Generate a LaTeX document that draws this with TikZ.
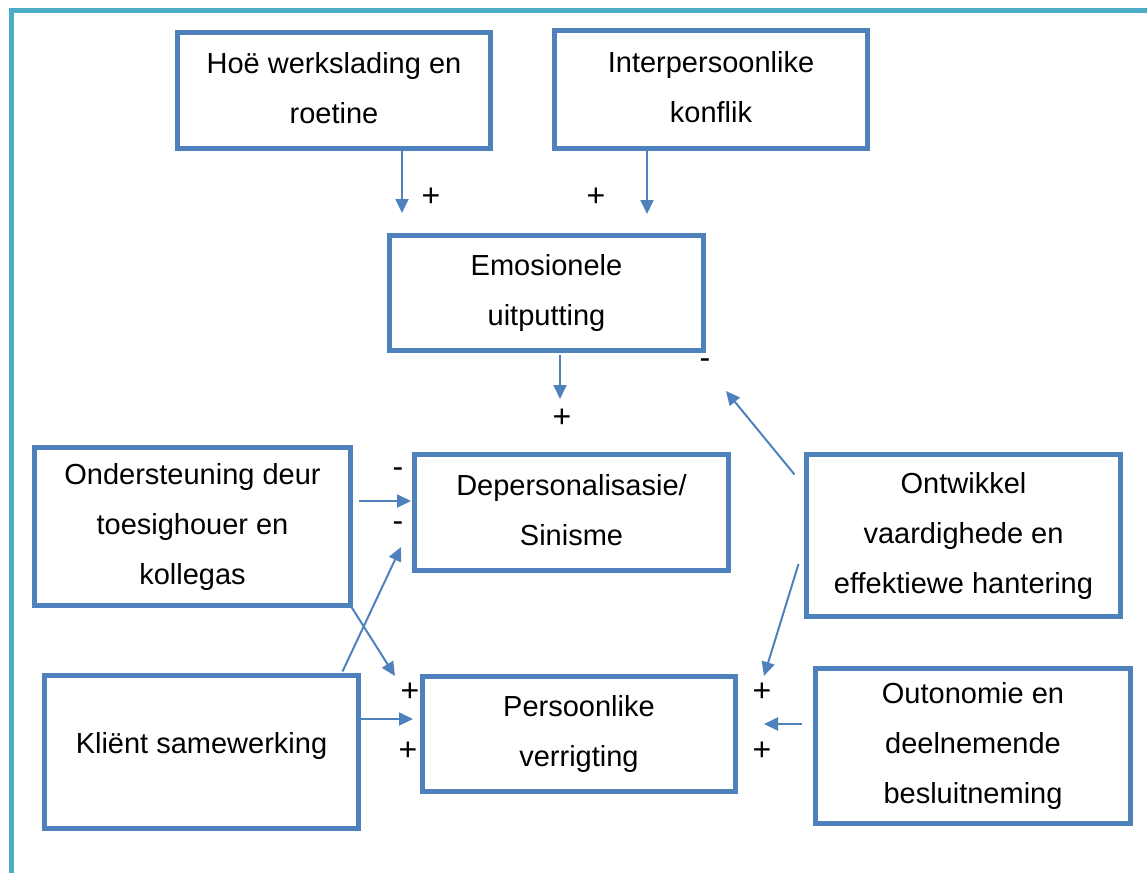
\documentclass[tikz,border=0pt]{standalone}
\usepackage{fontspec}
\setmainfont{Liberation Sans}
\usetikzlibrary{arrows.meta}
\definecolor{boxblue}{HTML}{4F81BD}
\definecolor{frameteal}{HTML}{4BACC6}
\tikzset{
  cbox/.style={draw=boxblue, line width=5pt, rectangle, inner sep=0pt, outer sep=0pt,
    align=center, font={\fontsize{29}{50}\selectfont}, line join=miter, text depth=6pt},
  arr/.style={draw=boxblue, line width=2pt, -{Triangle[length=14pt,width=13pt]}},
  sign/.style={inner sep=0pt, outer sep=0pt, font={\fontsize{32}{36}\selectfont}}
}
\begin{document}
\begin{tikzpicture}[x=1pt,y=-1pt]
\useasboundingbox (0,0) rectangle (1147,873);
\draw[frameteal, line width=5pt, line join=miter] (11,873) -- (11,10) -- (1147,10);

\node[cbox, minimum width=313pt, minimum height=116pt] (b1) at (334,90.5) {Hoë werkslading en\\roetine};
\node[cbox, minimum width=313pt, minimum height=118pt] (b2) at (711,89.5) {Interpersoonlike\\konflik};
\node[cbox, minimum width=314pt, minimum height=115pt] (b3) at (546.5,293) {Emosionele\\uitputting};
\node[cbox, minimum width=314pt, minimum height=116pt] (b4) at (571.5,512.5) {Depersonalisasie/\\Sinisme};
\node[cbox, minimum width=316pt, minimum height=158pt] (b5) at (192.5,526.5) {Ondersteuning deur\\toesighouer en\\kollegas};
\node[cbox, minimum width=314pt, minimum height=153pt] (b6) at (201.5,752) {\raisebox{12pt}{Kliënt samewerking}};
\node[cbox, minimum width=313pt, minimum height=115pt] (b7) at (579,734) {Persoonlike\\verrigting};
\node[cbox, minimum width=314pt, minimum height=162pt] (b8) at (963.5,535.5) {Ontwikkel\\vaardighede en\\effektiewe hantering};
\node[cbox, minimum width=315pt, minimum height=155pt] (b9) at (973,746) {Outonomie en\\deelnemende\\besluitneming};

\coordinate (ta) at (402,213);
\coordinate (tb) at (647,214);
\coordinate (tc) at (560,399);
\coordinate (td) at (726,391);
\coordinate (te) at (411,501);
\coordinate (tf) at (401,547);
\coordinate (tg) at (395,676);
\coordinate (th) at (413,719);
\coordinate (ti) at (764,676);
\coordinate (tj) at (764,724);

\draw[arr] ([yshift=-1pt]b1.south -| ta) -- (ta);
\draw[arr] ([yshift=-1pt]b2.south -| tb) -- (tb);
\draw[arr] ([yshift=-4pt]b3.south -| tc) -- (tc);
\draw[arr] ([shift={(-12,20)}]b8.north west) -- (td);
\draw[arr] ([shift={(8,-25.5)}]b5.east) -- (te);
\draw[arr] ([shift={(-16,-4)}]b6.north east) -- (tf);
\draw[arr] (b5.south east) -- (tg);
\draw[arr] ([shift={(2,-33)}]b6.east) -- (th);
\draw[arr] ([shift={(-8,28.5)}]b8.west) -- (ti);
\draw[arr] ([shift={(-14,-22)}]b9.west) -- (tj);

\node[sign] (s1) at (431,197) {+};
\node[sign] (s2) at (596,197) {+};
\node[sign] (s3) at (562,418) {+};
\node[sign] (s4) at (705,364) {-};
\node[sign] (s5) at (398,473) {-};
\node[sign] (s6) at (398,527) {-};
\node[sign] (s7) at (410,692) {+};
\node[sign] (s8) at (408,751) {+};
\node[sign] (s9) at (762,692) {+};
\node[sign] (s10) at (762,751) {+};
\end{tikzpicture}
\end{document}
